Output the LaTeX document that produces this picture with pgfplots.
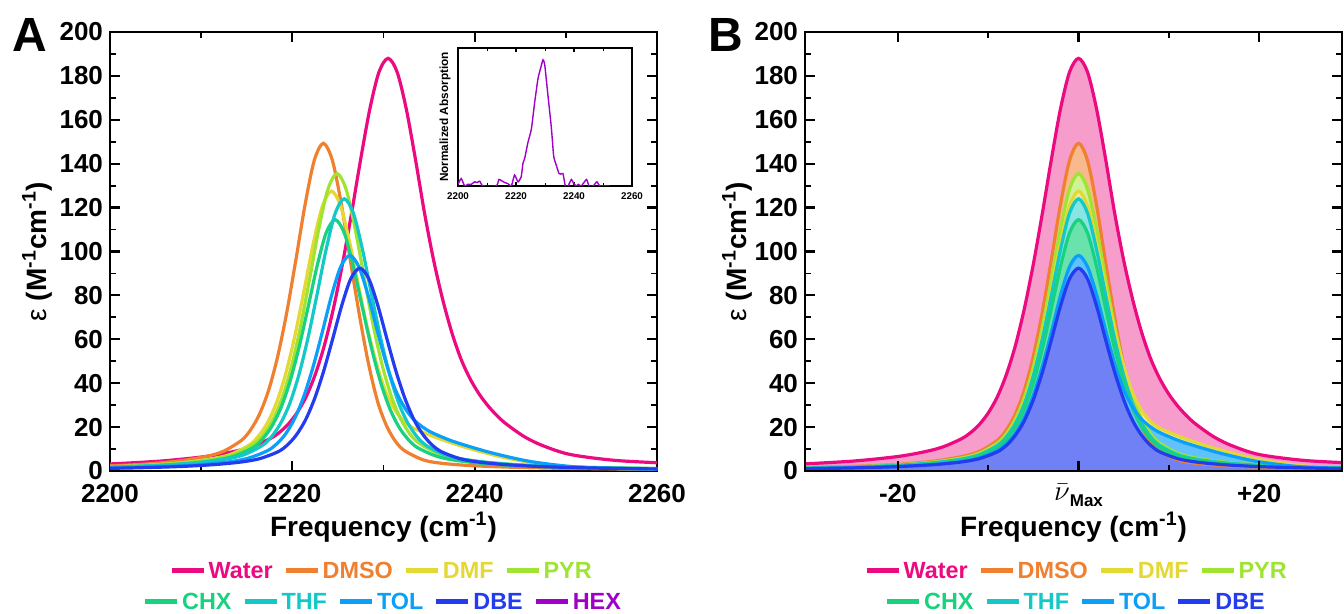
\documentclass[border=0pt]{standalone}
\usepackage{fontspec}
\setmainfont{Liberation Sans}
\usepackage{pgfplots}
\pgfplotsset{compat=1.18}
\usepackage{pgfplotstable}

\definecolor{cWater}{RGB}{236,10,128}
\definecolor{cDMSO}{RGB}{240,128,48}
\definecolor{cDMF}{RGB}{228,216,52}
\definecolor{cPYR}{RGB}{160,228,50}
\definecolor{cCHX}{RGB}{24,210,128}
\definecolor{cTHF}{RGB}{20,200,200}
\definecolor{cTOL}{RGB}{10,160,250}
\definecolor{cDBE}{RGB}{35,60,240}
\definecolor{cHEX}{RGB}{160,0,200}

\pgfplotstableread{
d nu v
-31 2199.5 3.1
-25 2205.5 4.5
-20 2210.5 6.6
-17 2213.5 8.8
-15 2215.5 11.0
-13 2217.5 14.6
-12 2218.5 17.3
-11 2219.5 21.1
-10 2220.5 26.4
-9 2221.5 33.7
-8 2222.5 43.8
-7 2223.5 57.0
-6 2224.5 73.9
-5 2225.5 94.3
-4 2226.5 117.5
-3 2227.5 142.1
-2 2228.5 164.9
-1 2229.5 181.7
0 2230.5 188.0
1 2231.5 181.7
2 2232.5 164.9
3 2233.5 142.1
4 2234.5 117.5
5 2235.5 96.0
6 2236.5 78.0
7 2237.5 63.0
8 2238.5 51.0
9 2239.5 42.0
10 2240.5 35.0
11 2241.5 29.5
12 2242.5 25.0
13 2243.5 21.3
15 2245.5 15.5
17 2247.5 11.5
20 2250.5 7.5
25 2255.5 4.8
31 2261.5 3.5
}\tWater

\pgfplotstableread{
d nu v
-31 2192.4 1.5
-25 2198.4 2.1
-20 2203.4 3.0
-16 2207.4 4.5
-13 2210.4 6.5
-11 2212.4 8.9
-9 2214.4 13.9
-8 2215.4 18.6
-7 2216.4 25.9
-6 2217.4 36.8
-5 2218.4 52.3
-4 2219.4 72.5
-3 2220.4 96.5
-2 2221.4 121.4
-1 2222.4 141.4
0 2223.4 149.3
1 2224.4 141.4
2 2225.4 121.0
3 2226.4 95.0
4 2227.4 70.0
5 2228.4 48.0
6 2229.4 31.0
7 2230.4 20.0
8 2231.4 13.0
9 2232.4 9.0
11 2234.4 5.0
13 2236.4 3.5
16 2239.4 2.5
20 2243.4 1.8
25 2248.4 1.3
31 2254.4 1.0
38 2261.4 0.8
}\tDMSO

\pgfplotstableread{
d nu v
-31 2193.9 1.4
-25 2199.9 1.9
-20 2204.9 2.8
-16 2208.9 4.1
-13 2211.9 5.9
-11 2213.9 8.1
-9 2215.9 12.7
-8 2216.9 16.9
-7 2217.9 23.6
-6 2218.9 33.5
-5 2219.9 47.5
-4 2220.9 65.8
-3 2221.9 87.6
-2 2222.9 110.2
-1 2223.9 128.3
0 2224.9 135.5
1 2225.9 128.3
2 2226.9 110.2
3 2227.9 87.6
4 2228.9 65.8
5 2229.9 47.5
6 2230.9 33.5
7 2231.9 23.6
8 2232.9 16.9
9 2233.9 12.7
11 2235.9 8.1
13 2237.9 5.9
16 2240.9 4.1
20 2244.9 2.8
25 2249.9 1.9
31 2255.9 1.4
38 2262.9 1.0
}\tPYR

\pgfplotstableread{
d nu v
-31 2193.3 1.3
-25 2199.3 1.8
-20 2204.3 2.6
-16 2208.3 3.9
-13 2211.3 5.6
-11 2213.3 7.7
-9 2215.3 11.9
-8 2216.3 16.0
-7 2217.3 22.2
-6 2218.3 31.5
-5 2219.3 44.7
-4 2220.3 62.0
-3 2221.3 82.5
-2 2222.3 103.7
-1 2223.3 120.7
0 2224.3 127.5
1 2225.3 120.7
2 2226.3 104.0
3 2227.3 83.5
4 2228.3 64.0
5 2229.3 48.0
6 2230.3 35.5
7 2231.3 27.5
8 2232.3 22.5
9 2233.3 19.5
11 2235.3 16.0
13 2237.3 13.0
16 2240.3 9.2
20 2244.3 5.2
25 2249.3 2.3
31 2255.3 1.1
38 2262.3 0.7
}\tDMF

\pgfplotstableread{
d nu v
-31 2193.7 1.2
-25 2199.7 1.7
-20 2204.7 2.4
-16 2208.7 3.5
-13 2211.7 5.0
-11 2213.7 6.9
-9 2215.7 10.7
-8 2216.7 14.4
-7 2217.7 20.0
-6 2218.7 28.3
-5 2219.7 40.2
-4 2220.7 55.7
-3 2221.7 74.1
-2 2222.7 93.1
-1 2223.7 108.4
0 2224.7 114.5
1 2225.7 108.4
2 2226.7 93.1
3 2227.7 74.1
4 2228.7 55.7
5 2229.7 40.2
6 2230.7 28.3
7 2231.7 20.0
8 2232.7 14.4
9 2233.7 10.7
11 2235.7 6.9
13 2237.7 5.0
16 2240.7 3.5
20 2244.7 2.4
25 2249.7 1.7
31 2255.7 1.2
38 2262.7 0.9
}\tCHX

\pgfplotstableread{
d nu v
-31 2194.7 1.3
-25 2200.7 1.8
-20 2205.7 2.6
-16 2209.7 3.8
-13 2212.7 5.4
-11 2214.7 7.4
-9 2216.7 11.6
-8 2217.7 15.5
-7 2218.7 21.6
-6 2219.7 30.6
-5 2220.7 43.5
-4 2221.7 60.3
-3 2222.7 80.2
-2 2223.7 100.8
-1 2224.7 117.4
0 2225.7 124.0
1 2226.7 117.4
2 2227.7 100.8
3 2228.7 80.2
4 2229.7 60.3
5 2230.7 43.5
6 2231.7 30.6
7 2232.7 21.6
8 2233.7 15.5
9 2234.7 11.6
11 2236.7 7.4
13 2238.7 5.4
16 2241.7 3.8
20 2245.7 2.6
25 2250.7 1.8
31 2256.7 1.3
38 2263.7 0.9
}\tTHF

\pgfplotstableread{
d nu v
-31 2195.3 1.1
-25 2201.3 1.5
-20 2206.3 2.1
-16 2210.3 3.0
-13 2213.3 4.3
-11 2215.3 6.0
-9 2217.3 9.3
-8 2218.3 12.4
-7 2219.3 17.1
-6 2220.3 24.3
-5 2221.3 34.5
-4 2222.3 47.8
-3 2223.3 63.5
-2 2224.3 79.9
-1 2225.3 93.0
0 2226.3 98.2
1 2227.3 93.0
2 2228.3 80.2
3 2229.3 64.2
4 2230.3 49.0
5 2231.3 37.0
6 2232.3 29.0
7 2233.3 23.5
8 2234.3 20.0
9 2235.3 17.5
11 2237.3 14.0
13 2239.3 11.3
16 2242.3 7.8
20 2246.3 4.2
25 2251.3 1.8
31 2257.3 1.0
38 2264.3 0.6
}\tTOL

\pgfplotstableread{
d nu v
-31 2196.4 1.0
-25 2202.4 1.4
-20 2207.4 2.0
-16 2211.4 2.9
-13 2214.4 4.1
-11 2216.4 5.6
-9 2218.4 8.7
-8 2219.4 11.6
-7 2220.4 16.2
-6 2221.4 22.9
-5 2222.4 32.5
-4 2223.4 45.0
-3 2224.4 59.8
-2 2225.4 75.1
-1 2226.4 87.5
0 2227.4 92.4
1 2228.4 87.5
2 2229.4 75.1
3 2230.4 59.8
4 2231.4 45.0
5 2232.4 32.5
6 2233.4 22.9
7 2234.4 16.2
8 2235.4 11.6
9 2236.4 8.7
11 2238.4 5.6
13 2240.4 4.1
16 2243.4 2.9
20 2247.4 2.0
25 2252.4 1.4
31 2258.4 1.0
38 2265.4 0.8
}\tDBE

\pgfplotstableread{
nu v
2200.0 0.012
2201.1 0.054
2202.3 0.000
2203.4 0.012
2204.6 0.012
2205.7 0.030
2206.6 0.025
2207.5 0.035
2208.6 0.000
2213.2 0.000
2214.1 0.047
2214.9 0.040
2216.1 0.025
2217.2 0.017
2218.4 0.000
2219.5 0.079
2220.7 0.030
2221.8 0.067
2222.4 0.165
2223.0 0.200
2224.1 0.314
2225.3 0.412
2226.4 0.600
2227.6 0.780
2228.7 0.870
2229.3 0.914
2229.9 0.880
2231.0 0.660
2232.2 0.420
2233.0 0.215
2233.9 0.150
2234.8 0.091
2235.4 0.086
2236.2 0.090
2237.0 0.000
2237.9 0.000
2239.1 0.047
2239.9 0.017
2240.8 0.000
2241.5 0.012
2242.5 0.000
2244.3 0.047
2245.2 0.000
2246.6 0.000
2247.9 0.030
2248.9 0.000
2251.1 0.000
2252.3 0.000
}\tHEX

\pgfplotsset{
  mainax/.style={
    scale only axis,
    height=219.5pt,
    ymin=0, ymax=200,
    ytick={0,20,...,200},
    minor y tick num=1,
    tick align=inside,
    major tick length=5pt,
    minor tick length=3pt,
    axis line style={line width=1.2pt},
    major tick style={line width=1.1pt, black},
    minor tick style={line width=0.9pt, black},
    tick label style={font=\fontsize{13}{13}\selectfont\bfseries},
    xticklabel style={yshift=-3pt},
    /pgf/number format/assume math mode=true,
    /pgf/number format/1000 sep={},
    xlabel={Frequency (cm\textsuperscript{-1})},
    ylabel={{\mdseries ε} (M\textsuperscript{-1}cm\textsuperscript{-1})},
    label style={font=\fontsize{14}{14}\selectfont\bfseries},
    xlabel style={at={(axis description cs:0.5,-0.1276)}, anchor=center},
  },
  ln/.style={line width=1.6pt, smooth},
}

\newcommand{\lgi}[2]{{\color{#1}\rule[3pt]{16pt}{2.4pt}\hspace{2.5pt}#2}}

\begin{document}
\begin{tikzpicture}
\useasboundingbox (0,0) rectangle (672pt,307pt);

% ---------- Panel A ----------
\begin{axis}[mainax,
  at={(55pt,71.5pt)}, anchor=south west,
  width=273.5pt,
  xmin=2200, xmax=2260,
  xtick={2200,2220,2240,2260},
  minor x tick num=1,
  ylabel style={at={(axis description cs:-0.1335,0.5)}, anchor=center},
]
\addplot[ln, cWater] table[x=nu,y=v]{\tWater};
\addplot[ln, cDMSO] table[x=nu,y=v]{\tDMSO};
\addplot[ln, cDMF] table[x=nu,y=v]{\tDMF};
\addplot[ln, cPYR] table[x=nu,y=v]{\tPYR};
\addplot[ln, cCHX] table[x=nu,y=v]{\tCHX};
\addplot[ln, cTHF] table[x=nu,y=v]{\tTHF};
\addplot[ln, cTOL] table[x=nu,y=v]{\tTOL};
\addplot[ln, cDBE] table[x=nu,y=v]{\tDBE};
\end{axis}

% ---------- Inset ----------
\begin{axis}[
  at={(229pt,214pt)}, anchor=south west,
  scale only axis, width=87pt, height=69pt,
  xmin=2200, xmax=2260, ymin=0, ymax=1,
  xtick={2200,2220,2240,2260}, minor x tick num=1,
  ytick=\empty,
  tick align=inside,
  major tick length=2pt, minor tick length=1.5pt,
  axis line style={line width=0.6pt},
  major tick style={line width=0.6pt, black},
  minor tick style={line width=0.5pt, black},
  tick label style={font=\fontsize{4.9}{5}\selectfont\bfseries},
  /pgf/number format/assume math mode=true,
  /pgf/number format/1000 sep={},
  ylabel={Normalized Absorption},
  ylabel style={font=\fontsize{5.9}{6}\selectfont\bfseries, at={(axis description cs:-0.075,0.5)}, anchor=center},
  axis background/.style={fill=white},
]
\addplot[line width=0.7pt, cHEX, smooth, tension=0.3] table[x=nu,y=v]{\tHEX};
\end{axis}

% ---------- Panel B ----------
\begin{axis}[mainax,
  at={(402.5pt,71.5pt)}, anchor=south west,
  width=268.5pt,
  xmin=-30.28, xmax=29.17,
  xtick={-20,0,20},
  xticklabels={-20,{{\fontsize{15}{15}\selectfont$\bar{\nu}$}\raisebox{-3pt}{\fontsize{8.5}{8.5}\selectfont Max}},+20},
  minor x tick num=1,
  ylabel style={at={(axis description cs:-0.1266,0.5)}, anchor=center},
  axis on top,
]
\addplot[draw=none, fill=cWater!40!white, smooth] table[x=d,y=v]{\tWater} \closedcycle;
\addplot[draw=none, fill=cDMSO!55!white, smooth] table[x=d,y=v]{\tDMSO} \closedcycle;
\addplot[draw=none, fill=cPYR!50!white, smooth] table[x=d,y=v]{\tPYR} \closedcycle;
\addplot[draw=none, fill=cDMF!50!white, smooth] table[x=d,y=v]{\tDMF} \closedcycle;
\addplot[draw=none, fill=cTHF!50!white, smooth] table[x=d,y=v]{\tTHF} \closedcycle;
\addplot[draw=none, fill=cCHX!65!white, smooth] table[x=d,y=v]{\tCHX} \closedcycle;
\addplot[draw=none, fill=cTOL!65!white, smooth] table[x=d,y=v]{\tTOL} \closedcycle;
\addplot[draw=none, fill=cDBE!65!white, smooth] table[x=d,y=v]{\tDBE} \closedcycle;
\addplot[ln, cWater] table[x=d,y=v]{\tWater};
\addplot[ln, cDMSO] table[x=d,y=v]{\tDMSO};
\addplot[ln, cPYR] table[x=d,y=v]{\tPYR};
\addplot[ln, cDMF] table[x=d,y=v]{\tDMF};
\addplot[ln, cTHF] table[x=d,y=v]{\tTHF};
\addplot[ln, cCHX] table[x=d,y=v]{\tCHX};
\addplot[ln, cTOL] table[x=d,y=v]{\tTOL};
\addplot[ln, cDBE] table[x=d,y=v]{\tDBE};
\end{axis}

% ---------- Panel letters ----------
\node[anchor=base west, inner sep=0pt, font=\fontsize{24}{24}\selectfont\bfseries] at (6pt,281pt) {A};
\node[anchor=base west, inner sep=0pt, font=\fontsize{24}{24}\selectfont\bfseries] at (354pt,281pt) {B};

% ---------- Legends ----------
\begin{scope}[every node/.style={anchor=base, inner sep=0pt, font=\fontsize{11.7}{12}\selectfont\bfseries}]
\node at (190.8pt,17.5pt) {\lgi{cWater}{Water}\hspace{6.5pt}\lgi{cDMSO}{DMSO}\hspace{6.5pt}\lgi{cDMF}{DMF}\hspace{6.5pt}\lgi{cPYR}{PYR}};
\node at (191.5pt,2pt) {\lgi{cCHX}{CHX}\hspace{6.5pt}\lgi{cTHF}{THF}\hspace{6.5pt}\lgi{cTOL}{TOL}\hspace{6.5pt}\lgi{cDBE}{DBE}\hspace{6.5pt}\lgi{cHEX}{HEX}};
\node at (538.3pt,17.5pt) {\lgi{cWater}{Water}\hspace{6.5pt}\lgi{cDMSO}{DMSO}\hspace{6.5pt}\lgi{cDMF}{DMF}\hspace{6.5pt}\lgi{cPYR}{PYR}};
\node at (538pt,2pt) {\lgi{cCHX}{CHX}\hspace{6.5pt}\lgi{cTHF}{THF}\hspace{6.5pt}\lgi{cTOL}{TOL}\hspace{6.5pt}\lgi{cDBE}{DBE}};
\end{scope}
\end{tikzpicture}
\end{document}
